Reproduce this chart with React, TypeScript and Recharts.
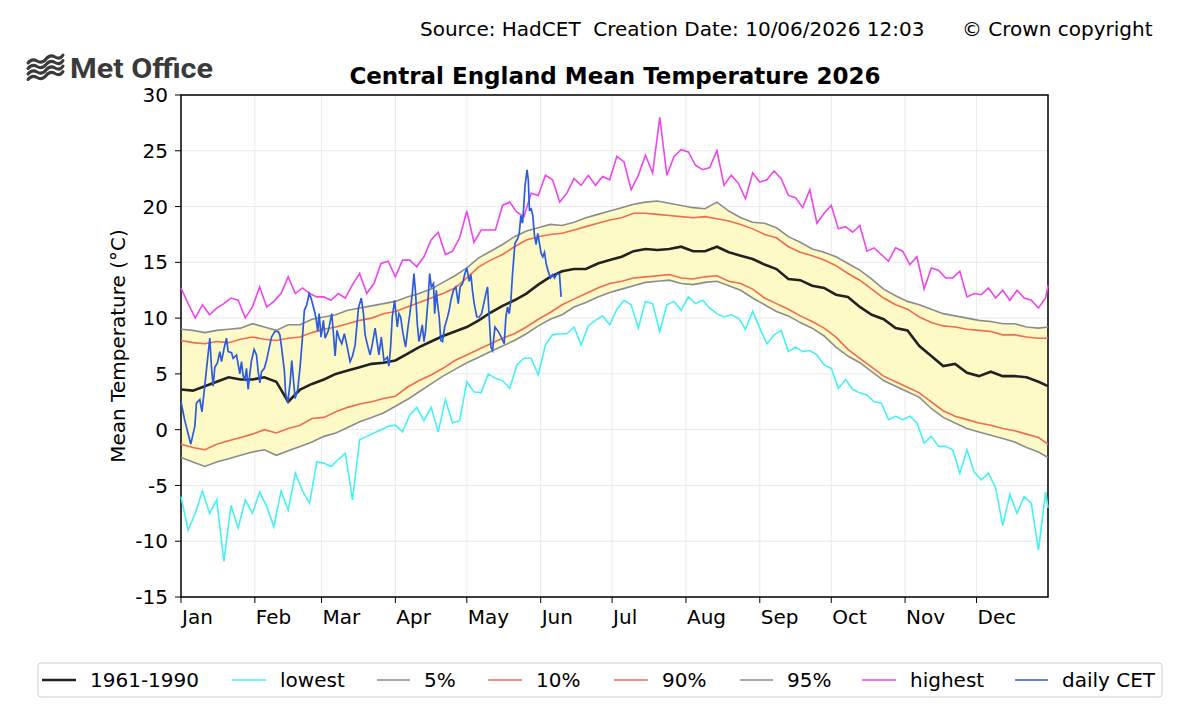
import React from "react";
import {
  ComposedChart,
  Line,
  Area,
  XAxis,
  YAxis,
  CartesianGrid,
  ReferenceArea,
} from "recharts";

// axis labels
const months = ["Jan", "Feb", "Mar", "Apr", "May", "Jun", "Jul", "Aug", "Sep", "Oct", "Nov", "Dec"];
const monthStart = [0, 31, 59, 90, 120, 151, 181, 212, 243, 273, 304, 334];
const yTicks = [-15, -10, -5, 0, 5, 10, 15, 20, 25, 30];

// climatology read every 5 days (day of year, 0 = 1 Jan)
const climDays = Array.from({ length: 73 }, (_, i) => i * 5).concat(364);

const mean1961 = [
  3.6, 3.5, 3.9, 4.3, 4.7, 4.5, 4.5, 4.7, 4.3, 2.5,
  3.6, 4.1, 4.5, 5.0, 5.3, 5.6, 5.9, 6.0, 6.2, 6.8,
  7.4, 7.9, 8.4, 8.8, 9.2, 9.8, 10.5, 11.1, 11.6, 12.2,
  13.0, 13.7, 14.2, 14.4, 14.4, 14.9, 15.2, 15.5, 16.0, 16.2,
  16.1, 16.2, 16.4, 16.0, 16.0, 16.4, 15.9, 15.6, 15.3, 14.8,
  14.4, 13.5, 13.4, 12.9, 12.7, 12.1, 11.9, 11.0, 10.3, 9.9,
  9.1, 8.9, 7.5, 6.6, 5.7, 5.9, 5.1, 4.8, 5.2, 4.8,
  4.8, 4.7, 4.3, 3.9,
];

const pct5 = [
  -2.5, -2.9, -3.3, -2.9, -2.6, -2.3, -2.0, -1.8, -2.3, -1.9,
  -1.5, -1.1, -0.6, -0.3, 0.2, 0.7, 1.1, 1.5, 2.1, 2.7,
  3.4, 4.1, 4.8, 5.4, 6.0, 6.5, 7.0, 7.5, 8.0, 8.6,
  9.3, 9.9, 10.3, 11.0, 11.4, 11.9, 12.3, 12.6, 12.9, 13.2,
  13.3, 13.4, 13.1, 13.0, 13.2, 13.3, 12.9, 12.5, 11.8, 11.2,
  10.6, 10.2, 9.6, 9.1, 8.4, 7.4, 6.6, 6.0, 5.2, 4.4,
  3.9, 3.4, 2.9, 1.9, 1.1, 0.6, 0.1, -0.2, -0.5, -0.8,
  -1.1, -1.6, -2.0, -2.5,
];

const pct10 = [
  -1.3, -1.6, -1.8, -1.3, -1.0, -0.7, -0.4, 0.0, -0.3, 0.1,
  0.4, 1.0, 1.1, 1.6, 2.0, 2.3, 2.5, 2.8, 3.0, 3.8,
  4.4, 4.9, 5.5, 6.2, 6.7, 7.2, 7.7, 8.2, 8.6, 9.2,
  9.9, 10.5, 11.2, 11.7, 12.2, 12.7, 13.1, 13.3, 13.6, 13.7,
  13.8, 13.9, 13.6, 13.5, 13.7, 13.8, 13.3, 13.1, 12.6, 11.8,
  11.3, 10.8, 10.2, 9.7, 9.1, 8.3, 7.2, 6.4, 5.6, 4.8,
  4.3, 3.8, 3.3, 2.5, 1.7, 1.2, 0.9, 0.6, 0.4, 0.1,
  -0.1, -0.4, -0.7, -1.3,
];

const pct90 = [
  8.0, 7.8, 7.7, 7.9, 7.8, 8.1, 8.3, 8.1, 8.0, 8.2,
  8.3, 8.7, 9.0, 9.2, 9.5, 9.8, 10.0, 10.4, 10.6, 11.0,
  11.4, 11.8, 12.2, 12.7, 13.6, 14.6, 15.2, 15.7, 16.4, 17.0,
  17.3, 17.5, 17.6, 17.9, 18.2, 18.5, 18.8, 19.0, 19.4, 19.4,
  19.3, 19.2, 19.1, 19.0, 19.1, 18.9, 18.7, 18.4, 18.0, 17.5,
  17.2, 16.4, 15.9, 15.6, 15.2, 14.7, 14.0, 13.4, 12.6, 11.8,
  11.2, 10.8, 10.1, 9.6, 9.3, 9.2, 9.0, 8.9, 8.8, 8.5,
  8.5, 8.3, 8.2, 8.2,
];

const pct95 = [
  9.0, 8.9, 8.7, 8.9, 9.0, 9.1, 9.5, 9.2, 8.9, 9.4,
  9.4, 9.9, 10.1, 10.3, 10.7, 10.9, 11.1, 11.3, 11.5, 11.9,
  12.2, 12.6, 13.2, 13.8, 14.5, 15.4, 16.0, 16.6, 17.3, 17.8,
  18.1, 18.4, 18.3, 18.6, 19.0, 19.3, 19.6, 19.9, 20.2, 20.4,
  20.5, 20.3, 20.1, 19.9, 19.8, 20.4, 19.6, 19.0, 18.6, 18.5,
  18.1, 17.3, 16.8, 16.2, 15.9, 15.5, 14.9, 14.3, 13.5, 12.6,
  12.0, 11.5, 11.2, 10.8, 10.4, 10.2, 10.0, 9.8, 9.7, 9.5,
  9.5, 9.2, 9.1, 9.2,
];

// record extremes read every 3 days
const extremeDays = Array.from({ length: 122 }, (_, i) => i * 3).concat(364);

const lowest = [
  -6.0, -9.0, -7.5, -5.5, -7.5, -6.3, -11.8, -6.8, -8.8, -6.3,
  -7.5, -5.6, -6.9, -8.7, -5.5, -7.2, -3.9, -5.5, -6.6, -2.9,
  -3.0, -3.3, -2.7, -2.1, -6.3, -0.9, -0.6, -0.3, 0.0, 0.3,
  0.4, -0.2, 1.3, 2.0, 0.8, 2.0, -0.2, 2.7, 0.6, 0.8,
  4.3, 3.4, 3.3, 5.0, 4.6, 4.4, 3.7, 5.8, 6.4, 6.4,
  4.9, 7.6, 8.5, 8.6, 8.6, 9.2, 7.6, 9.3, 9.8, 10.2,
  9.4, 10.8, 11.6, 11.2, 9.1, 11.5, 11.3, 8.8, 11.2, 11.5,
  10.7, 11.9, 11.3, 11.6, 10.9, 10.4, 10.1, 10.3, 10.0, 9.0,
  10.6, 9.1, 7.7, 8.5, 8.9, 7.0, 7.4, 7.0, 7.1, 6.7,
  5.8, 5.5, 3.7, 4.5, 3.6, 3.3, 3.1, 2.5, 2.4, 0.9,
  1.2, 0.9, 1.2, 0.6, -1.2, -0.6, -1.5, -1.5, -1.8, -3.9,
  -1.8, -3.8, -4.5, -3.9, -5.2, -8.6, -5.8, -7.5, -6.0, -6.6,
  -10.8, -5.6, -7.0,
];

const highest = [
  12.7, 11.3, 10.0, 11.2, 10.3, 10.9, 11.3, 11.8, 11.6, 10.0,
  11.0, 12.8, 11.0, 11.5, 12.2, 13.7, 12.2, 12.7, 12.2, 11.9,
  11.9, 11.6, 12.2, 11.8, 13.0, 14.0, 12.2, 13.1, 14.9, 15.1,
  13.7, 15.2, 15.2, 14.6, 15.5, 17.0, 17.7, 15.7, 16.0, 17.2,
  19.6, 16.8, 17.9, 17.9, 17.9, 20.1, 20.4, 19.5, 19.1, 21.2,
  21.0, 22.8, 22.4, 20.4, 21.2, 22.5, 21.9, 22.8, 21.9, 22.7,
  22.4, 24.5, 24.0, 21.5, 22.8, 24.6, 23.0, 28.0, 22.8, 24.5,
  25.1, 24.9, 23.7, 23.3, 23.5, 25.0, 21.9, 22.8, 22.1, 20.7,
  23.0, 22.2, 22.4, 23.2, 22.5, 21.0, 20.8, 19.9, 21.5, 18.5,
  19.4, 20.1, 18.0, 18.2, 17.7, 18.3, 16.0, 16.3, 15.7, 15.1,
  16.3, 16.0, 14.8, 15.5, 12.6, 14.5, 14.3, 13.6, 13.6, 14.2,
  11.9, 12.2, 12.1, 12.7, 11.8, 12.5, 11.6, 12.5, 11.8, 11.6,
  10.9, 11.8, 12.9,
];

// daily CET 2026
const cetDays = [
  0, 1.5, 4.1, 5.8, 6.5, 7.9, 8.8, 12.1, 12.8, 13.5,
  14.2, 15.3, 16.3, 17.0, 18.1, 19.1, 19.8, 21.2, 21.9, 23.3,
  24.7, 25.4, 26.1, 26.8, 27.5, 28.2, 28.9, 29.6, 30.7, 31.7,
  32.4, 33.1, 33.8, 35.0, 35.9, 36.9, 38.0, 39.4, 40.8, 41.5,
  42.2, 43.4, 43.9, 44.8, 45.8, 46.5, 47.2, 47.9, 49.0, 50.0,
  51.0, 51.8, 52.8, 53.8, 54.6, 55.6, 56.6, 57.4, 58.0, 58.8,
  59.8, 60.5, 61.9, 63.3, 64.0, 64.7, 65.5, 66.4, 67.5, 68.6,
  69.6, 71.0, 72.0, 73.1, 74.5, 75.7, 76.6, 77.3, 78.5, 79.4,
  80.1, 81.5, 83.1, 84.1, 85.2, 86.6, 87.3, 88.0, 88.7, 89.7,
  90.8, 91.5, 92.2, 93.2, 94.3, 95.3, 96.1, 97.1, 97.8, 98.5,
  99.2, 99.9, 100.6, 101.3, 102.0, 102.7, 103.7, 104.4, 105.1, 106.0,
  106.5, 107.2, 107.7, 108.4, 109.1, 109.8, 110.7, 111.9, 112.6, 113.3,
  114.4, 115.4, 116.4, 117.2, 118.2, 119.2, 120.0, 121.0, 121.7, 122.4,
  123.1, 124.2, 125.2, 126.2, 127.3, 128.0, 128.7, 129.4, 130.1, 130.8,
  131.8, 132.9, 134.0, 135.7, 136.4, 137.1, 137.8, 138.5, 139.2, 140.2,
  141.3, 142.0, 142.7, 143.4, 143.9, 144.4, 145.3, 145.8, 146.3, 147.0,
  147.7, 148.4, 149.1, 149.8, 150.5, 151.2, 151.9, 152.6, 153.3, 154.0,
  155.1, 156.1, 156.8, 157.9, 158.9, 159.6,
];
const cetTemps = [
  2.5, 0.9, -1.3, 0.3, 2.4, 2.7, 1.6, 8.2, 5.6, 3.9,
  5.6, 6.0, 7.0, 6.1, 7.3, 8.2, 7.0, 6.9, 6.4, 6.7,
  5.0, 6.1, 4.8, 4.5, 5.5, 3.6, 5.0, 6.2, 7.2, 6.7,
  5.2, 4.2, 5.2, 5.5, 6.2, 7.2, 8.3, 8.8, 8.8, 8.5,
  7.4, 5.3, 3.3, 2.4, 4.2, 6.2, 4.5, 2.8, 3.6, 5.6,
  8.3, 10.7, 11.2, 12.2, 11.8, 11.0, 10.1, 8.8, 10.4, 8.3,
  9.8, 8.2, 8.9, 10.4, 8.6, 6.6, 8.9, 8.2, 7.7, 8.6,
  7.6, 6.1, 6.6, 7.6, 10.9, 11.8, 10.4, 8.5, 7.4, 6.7,
  7.4, 9.1, 6.7, 8.3, 6.2, 6.5, 5.7, 7.4, 10.1, 11.6,
  9.2, 10.4, 10.1, 8.6, 7.4, 9.2, 10.4, 12.2, 14.0, 12.2,
  9.5, 7.9, 8.6, 9.4, 7.9, 8.9, 11.6, 14.0, 12.8, 13.1,
  10.4, 12.5, 11.3, 10.1, 8.0, 7.9, 9.2, 10.1, 10.7, 11.6,
  12.5, 12.8, 11.3, 12.8, 13.1, 14.0, 14.5, 13.3, 13.9, 12.4,
  11.3, 10.1, 10.1, 10.4, 11.5, 12.2, 12.8, 10.1, 7.4, 7.1,
  9.2, 8.9, 8.5, 7.7, 10.1, 11.0, 10.4, 11.6, 14.0, 16.7,
  17.1, 17.6, 19.2, 18.5, 20.0, 21.8, 23.3, 22.4, 19.7, 19.8,
  19.2, 17.4, 16.6, 17.6, 16.7, 15.8, 15.5, 15.9, 14.9, 14.3,
  13.6, 13.9, 13.6, 14.0, 13.9, 11.9,
];

const COLORS = {
  mean: "#222222",
  lowest: "#45f2f2",
  p5: "#8c8c8c",
  p10: "#f26a4f",
  highest: "#ee45ee",
  cet: "#2b5ce0",
  band: "#fdfac8",
};

const toPoints = (days: number[], vals: number[]) =>
  days.map((day, i) => ({ day, t: vals[i] }));

const bandData = climDays.map((day, i) => ({ day, band: [pct5[i], pct95[i]] }));

const legendItems = [
  { label: "1961-1990", color: COLORS.mean, width: 2.5, x1: 42, x2: 76, tx: 90 },
  { label: "lowest", color: COLORS.lowest, width: 1.5, x1: 232, x2: 266, tx: 280 },
  { label: "5%", color: COLORS.p5, width: 1.5, x1: 377, x2: 410, tx: 424 },
  { label: "10%", color: COLORS.p10, width: 1.5, x1: 488, x2: 522, tx: 536 },
  { label: "90%", color: COLORS.p10, width: 1.5, x1: 614, x2: 648, tx: 662 },
  { label: "95%", color: COLORS.p5, width: 1.5, x1: 740, x2: 773, tx: 787 },
  { label: "highest", color: COLORS.highest, width: 1.5, x1: 862, x2: 896, tx: 910 },
  { label: "daily CET", color: COLORS.cet, width: 1.5, x1: 1015, x2: 1048, tx: 1062 },
];

const FONT = "'DejaVu Sans', sans-serif";

const App: React.FC = () => {
  return (
    <div style={{ position: "absolute", left: 0, top: 0, width: 1200, height: 720, background: "#fff" }}>
      <ComposedChart
        width={1200}
        height={720}
        margin={{ top: 95, right: 152, bottom: 93, left: 121 }}
      >
        <CartesianGrid stroke="#e4e4e4" strokeWidth={0.8} />
        <XAxis
          dataKey="day"
          type="number"
          domain={[0, 364]}
          ticks={monthStart}
          interval={0}
          height={30}
          tickSize={6}
          tickMargin={7}
          axisLine={false}
          tickLine={{ stroke: "#000" }}
          tickFormatter={(v: number) => months[monthStart.indexOf(v)] ?? ""}
          tick={{ fill: "#000", fontSize: 20, fontFamily: FONT, textAnchor: "start", dx: 1 }}
        />
        <YAxis
          type="number"
          domain={[-15, 30]}
          ticks={yTicks}
          interval={0}
          width={60}
          tickSize={6}
          tickMargin={7}
          axisLine={false}
          tickLine={{ stroke: "#000" }}
          tick={{ fill: "#000", fontSize: 20, fontFamily: FONT }}
          allowDataOverflow
        />
        <Area
          data={bandData}
          dataKey="band"
          type="linear"
          stroke="none"
          fill={COLORS.band}
          fillOpacity={1}
          isAnimationActive={false}
          activeDot={false}
        />
        <Line data={toPoints(extremeDays, lowest)} dataKey="t" type="linear" stroke={COLORS.lowest} strokeWidth={1.6} dot={false} activeDot={false} isAnimationActive={false} />
        <Line data={toPoints(climDays, pct5)} dataKey="t" type="linear" stroke={COLORS.p5} strokeWidth={1.6} dot={false} activeDot={false} isAnimationActive={false} />
        <Line data={toPoints(climDays, pct10)} dataKey="t" type="linear" stroke={COLORS.p10} strokeWidth={1.6} dot={false} activeDot={false} isAnimationActive={false} />
        <Line data={toPoints(climDays, pct90)} dataKey="t" type="linear" stroke={COLORS.p10} strokeWidth={1.6} dot={false} activeDot={false} isAnimationActive={false} />
        <Line data={toPoints(climDays, pct95)} dataKey="t" type="linear" stroke={COLORS.p5} strokeWidth={1.6} dot={false} activeDot={false} isAnimationActive={false} />
        <Line data={toPoints(extremeDays, highest)} dataKey="t" type="linear" stroke={COLORS.highest} strokeWidth={1.6} dot={false} activeDot={false} isAnimationActive={false} />
        <Line data={toPoints(climDays, mean1961)} dataKey="t" type="linear" stroke={COLORS.mean} strokeWidth={2.6} dot={false} activeDot={false} isAnimationActive={false} />
        <Line data={toPoints(cetDays, cetTemps)} dataKey="t" type="linear" stroke={COLORS.cet} strokeWidth={1.7} dot={false} activeDot={false} isAnimationActive={false} />
        <ReferenceArea x1={0} x2={364} y1={-15} y2={30} fill="none" stroke="#000" strokeWidth={1.5} ifOverflow="visible" />
      </ComposedChart>

      <svg
        width={1200}
        height={720}
        style={{ position: "absolute", left: 0, top: 0, pointerEvents: "none", fontFamily: FONT }}
      >
        <text x={420} y={36} fontSize={20} fill="#000" style={{ whiteSpace: "pre" }}>
          {"Source: HadCET  Creation Date: 10/06/2026 12:03"}
        </text>
        <text x={962} y={36} fontSize={20} fill="#000">
          © Crown copyright
        </text>

        {/* Met Office logo */}
        <g stroke="#3a3a3a" strokeWidth={3} fill="none" strokeLinecap="round">
          <path d="M28 63 q4 -5 9 -2 t9 -2 t9 -2 t8 -2" />
          <path d="M28 68.5 q4 -5 9 -2 t9 -2 t9 -2 t8 -2" />
          <path d="M28 74 q4 -5 9 -2 t9 -2 t9 -2 t8 -2" />
          <path d="M28 79.5 q4 -5 9 -2 t9 -2 t9 -2 t8 -2" />
        </g>
        <text x={70} y={78} fontSize={28} fontWeight={700} fill="#3a3a3a" fontFamily="Roboto, sans-serif" textLength={143} lengthAdjust="spacingAndGlyphs">
          Met Office
        </text>

        <text x={615} y={84} fontSize={23} fontWeight={700} fill="#000" textAnchor="middle">
          Central England Mean Temperature 2026
        </text>

        <text transform="translate(125,346) rotate(-90)" fontSize={20} fill="#000" textAnchor="middle">
          Mean Temperature (°C)
        </text>

        {/* legend */}
        <rect x={38} y={663} width={1124} height={34} rx={3} fill="#fff" stroke="#cccccc" strokeWidth={1} />
        {legendItems.map((it) => (
          <g key={it.label}>
            <line x1={it.x1} x2={it.x2} y1={680} y2={680} stroke={it.color} strokeWidth={it.width} />
            <text x={it.tx} y={687} fontSize={20} fill="#000">
              {it.label}
            </text>
          </g>
        ))}
      </svg>
    </div>
  );
};

export default App;
